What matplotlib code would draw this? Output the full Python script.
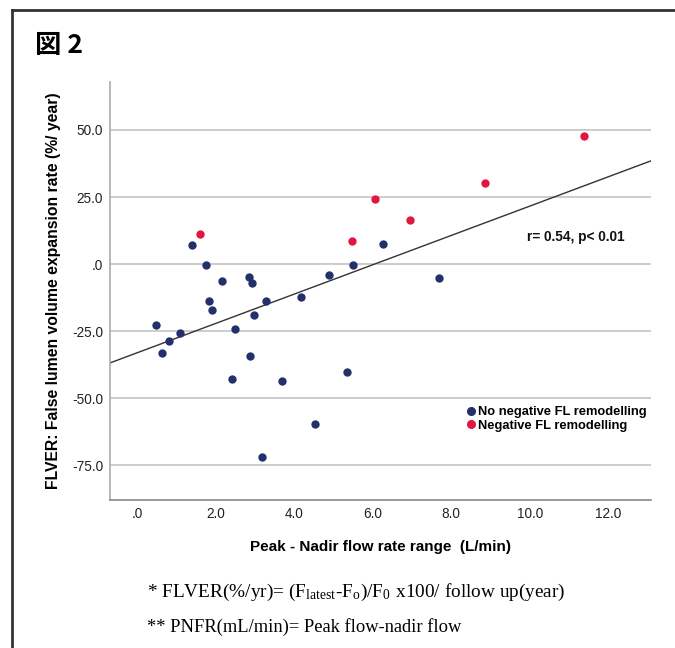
import numpy as np
import matplotlib
matplotlib.use("Agg")
import matplotlib.pyplot as plt
from matplotlib.lines import Line2D

plt.rcParams['font.family'] = ['Liberation Sans', 'DejaVu Sans']
plt.rcParams['mathtext.fontset'] = 'stix'

# points
blue_x = [0.48, 0.64, 0.81, 1.09, 1.39, 1.76, 1.84, 1.90, 2.16, 2.42, 2.49, 2.85, 2.88,
          2.93, 2.97, 3.18, 3.28, 3.69, 4.17, 4.52, 4.88, 5.34, 5.49, 6.25, 7.68]
blue_y = [-22.9, -33.1, -28.8, -25.6, 7.2, -0.3, -13.8, -17.0, -6.4, -43.0, -24.3, -4.7, -34.2,
          -7.0, -19.0, -72.0, -13.9, -43.8, -12.2, -59.7, -4.2, -40.4, -0.5, 7.6, -5.1]
red_x = [1.59, 5.47, 6.07, 6.96, 8.86, 11.39]
red_y = [11.1, 8.7, 24.1, 16.3, 30.1, 47.9]

fit_slope = 5.47
fit_icept = -33.1

xticks = [0, 2, 4, 6, 8, 10, 12]
xlabels = ['.0', '2.0', '4.0', '6.0', '8.0', '10.0', '12.0']
yticks = [-75, -50, -25, 0, 25, 50]
ylabels = ['-75.0', '-50.0', '-25.0', '.0', '25.0', '50.0']

blue = '#23306b'
red = '#e2173f'

fig = plt.figure(figsize=(6.75, 6.48), dpi=100)
ax = fig.add_axes([0.163, 0.2284, 0.801, 0.6451])
ax.set_xlim(-0.69, 13.08)
ax.set_ylim(-88.0, 67.9)

ax.set_xticks(xticks)
ax.set_xticklabels(xlabels)
ax.set_yticks(yticks)
ax.set_yticklabels(ylabels)
ax.tick_params(length=0, labelsize=9.8, labelcolor='#222222', pad=5)
ax.grid(axis='y', color='#c8c8c8', lw=1.3)
ax.set_axisbelow(True)
for s in ['top', 'right']:
    ax.spines[s].set_visible(False)
ax.spines['left'].set_color('#aaaaaa')
ax.spines['bottom'].set_color('#888888')
ax.spines['left'].set_linewidth(1.2)
ax.spines['bottom'].set_linewidth(1.2)

xx = np.array(ax.get_xlim())
ax.plot(xx, fit_icept + fit_slope * xx, color='#333333', lw=1.0, zorder=2)

ax.scatter(blue_x, blue_y, s=36, color=blue, zorder=3, linewidths=0)
ax.scatter(red_x, red_y, s=36, color=red, zorder=3, linewidths=0)

ax.text(9.93, 10.1, 'r= 0.54, p< 0.01', fontsize=9.8, fontweight='bold', color='#111111',
        va='center')

handles = [Line2D([], [], marker='o', ls='', color=blue, markersize=5.5),
           Line2D([], [], marker='o', ls='', color=red, markersize=5.5)]
leg = ax.legend(handles, ['No negative FL remodelling', 'Negative FL remodelling'],
                loc='upper left', bbox_to_anchor=(0.645, 0.24), frameon=False,
                handletextpad=0.1, labelspacing=0.1, handlelength=0.9,
                prop={'weight': 'bold', 'size': 9.3}, borderpad=0)

ax.set_xlabel('Peak - Nadir flow rate range  (L/min)', fontsize=11, fontweight='bold', labelpad=14)
ax.set_ylabel('FLVER: False lumen volume expansion rate (%/ year)', fontsize=11.3,
              fontweight='bold', labelpad=8)

fig.text(0.052, 0.93, '図 2', fontsize=19, fontweight='bold',
         family=['Noto Sans CJK JP', 'DejaVu Sans'], va='center', ha='left')

fig.text(0.218, 0.086,
         r'* FLVER(%/yr)= (F$_{\mathregular{latest}}$-F$_{\mathregular{o}}$)/F$_{\mathregular{0}}$ x100/ follow up(year)',
         fontsize=13.9, family='Liberation Serif', va='center', ha='left')
fig.text(0.218, 0.032, '** PNFR(mL/min)= Peak flow-nadir flow',
         fontsize=13.3, family='Liberation Serif', va='center', ha='left')

# outer frame (top and left only visible)
fig.add_artist(Line2D([12 / 675, 1], [1 - 10 / 648, 1 - 10 / 648], color='#333333', lw=2,
                      transform=fig.transFigure))
fig.add_artist(Line2D([12 / 675, 12 / 675], [0, 1 - 10 / 648], color='#333333', lw=2,
                      transform=fig.transFigure))

fig.savefig('out.png', dpi=100)
